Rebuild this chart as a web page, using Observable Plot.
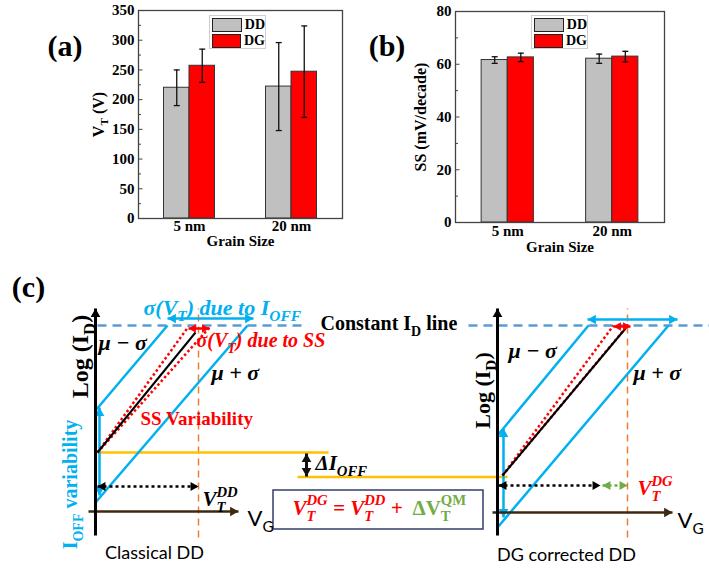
<!DOCTYPE html>
<html>
<head>
<meta charset="utf-8">
<script src="https://cdn.jsdelivr.net/npm/d3@7"></script>
<script src="https://cdn.jsdelivr.net/npm/@observablehq/plot@0.6"></script>
<style>
  html, body { margin: 0; padding: 0; background: #fff; }
  #fig { position: relative; width: 709px; height: 570px; overflow: hidden; background: #fff; }
  .panel { position: absolute; }
  .panel svg { overflow: visible; font-family: "Liberation Serif", "Times New Roman", serif; }
  .legend { position: absolute; box-sizing: border-box; width: 57px; height: 34px; border: 1px solid #cfcfcf;
            background: #fff; padding: 1px 0 0 2px; font: bold 14px "Liberation Serif", serif; color: #000; }
  .lrow { height: 16px; display: flex; align-items: center; }
  .sw { box-sizing: border-box; width: 30px; height: 14px; border: 1px solid #222; margin-right: 3px; }
</style>
</head>
<body>
<div id="fig"></div>
<script>
// ---------------- Panels (a) and (b): bar data ----------------
const grainSizes = ["5 nm", "20 nm"];
const seriesNames = ["DD", "DG"];
const seriesColors = ["#c0c0c0", "#ff0000"];

const vtDD = [220, 222];          // V_T (V), classical drift-diffusion
const vtDG = [257, 247];          // V_T (V), density-gradient
const vtErrDD = [30, 74];
const vtErrDG = [28, 77];
const vtTicks = [0, 50, 100, 150, 200, 250, 300, 350];
const vtMinorTicks = [25, 75, 125, 175, 225, 275, 325];

const ssDD = [61.6, 62.1];        // SS (mV/decade)
const ssDG = [62.6, 62.9];
const ssErrDD = [1.25, 1.75];
const ssErrDG = [1.6, 2.0];
const ssTicks = [0, 20, 40, 60, 80];
const ssMinorTicks = [10, 30, 50, 70];

// ---------------- Panel (c): schematic (x: V_G, y: log I_D, arbitrary units) ----------------
const currentAxes = [{x1: 0, y1: -2.4, x2: 0, y2: 20.3}, {x1: 40.2, y1: -2.4, x2: 40.2, y2: 20.3}];
const gateAxes = [{x1: -0.7, y1: 0, x2: 14.3, y2: 0}, {x1: 39.7, y1: -0.1, x2: 57.7, y2: -0.1}];
const constantIdLine = [{x1: 0.2, y1: 18.6, x2: 20.8, y2: 18.6}, {x1: 37.3, y1: 18.6, x2: 61.4, y2: 18.6}];
const sigmaCurves = [
  {x1: 0, y1: 10.1, x2: 7.2, y2: 18.6},
  {x1: 0, y1: 0.9, x2: 15.2, y2: 18.6},
  {x1: 40.2, y1: 7.6, x2: 49.3, y2: 18.6},
  {x1: 40.2, y1: -1.6, x2: 57.3, y2: 18.6}
];
const ioffSpread = [
  {x1: 7.2, y1: 19.3, x2: 15.8, y2: 19.3},
  {x1: 0.4, y1: 10.4, x2: 0.4, y2: 1.6},
  {x1: 49.2, y1: 19.2, x2: 58.2, y2: 19.2},
  {x1: 40.8, y1: 8.3, x2: 40.8, y2: -0.6}
];
const ssBounds = [
  {x1: 0.2, y1: 5.9, x2: 9.3, y2: 18.5},
  {x1: 0.2, y1: 5.9, x2: 11.4, y2: 18.4},
  {x1: 40.7, y1: 3.6, x2: 51.8, y2: 18.6},
  {x1: 40.7, y1: 3.6, x2: 53.3, y2: 18.7}
];
const meanCurves = [{x1: 0.2, y1: 5.9, x2: 10.0, y2: 17.9}, {x1: 40.7, y1: 3.6, x2: 53.0, y2: 18.3}];
const ssSpread = [{x1: 9.3, y1: 18.3, x2: 11.4, y2: 18.3}, {x1: 51.8, y1: 18.5, x2: 53.5, y2: 18.5}];
const vtMarkers = [{x1: 10.3, y1: -2.6, x2: 10.3, y2: 20.3}, {x1: 53.2, y1: -2.6, x2: 53.2, y2: 20.3}];
const ioffLevels = [{x1: 0.2, y1: 5.9, x2: 23.3, y2: 5.9}, {x1: 20.2, y1: 3.45, x2: 41.2, y2: 3.45}];
const ioffShift = [{x1: 21.1, y1: 5.8, x2: 21.1, y2: 3.5}];
const vtDistance = [{x1: 0.2, y1: 2.5, x2: 10.3, y2: 2.5}, {x1: 40.3, y1: 2.6, x2: 50.5, y2: 2.6}];
const qmShift = [{x1: 50.7, y1: 2.6, x2: 53.2, y2: 2.6}];
const equationBox = [{x1: 17.8, y1: -1.8, x2: 38.8, y2: 2.1}];

const panelTag = [{text: "(c)", x: -6.7, y: 22.4}];
const constantLabel = [{text: "Constant I_{D} line", x: 22.5, y: 18.8}];
const muLabels = [
  {text: "μ − σ", x: 0.3, y: 16.9}, {text: "μ + σ", x: 11.6, y: 13.9},
  {text: "μ − σ", x: 41.3, y: 16.1}, {text: "μ + σ", x: 53.8, y: 13.9}
];
const sigmaIoffLabel = [{text: "σ(V_{T}) due to I_{OFF}", x: 4.8, y: 20.4}];
const sigmaSSLabel = [{text: "σ(V_{T}) due to SS", x: 10.1, y: 17.1}];
const ssVarLabel = [{text: "SS Variability", x: 4.5, y: 9.3}];
const logIdLeft = [{text: "Log (I_{D})", x: -1.5, y: 15.5}];
const logIdRight = [{text: "Log (I_{D})", x: 38.7, y: 12.1}];
const ioffVarLabel = [{text: "I_{OFF} variability", x: -2.5, y: 2.7}];
const caseLabels = [{text: "Classical DD", x: 5.9, y: -4.2}, {text: "DG corrected DD", x: 47.1, y: -4.4}];
const vgLabels = [{text: "V_{G}", x: 15.2, y: -0.7}, {text: "V_{G}", x: 58.2, y: -0.9}];
const vtDDLabel = [{text: "V_{T}^{DD}", x: 10.7, y: 1.2}];
const vtDGLabel = [{text: "V_{T}^{DG}", x: 54.2, y: 2.3}];
const deltaIoffLabel = [{text: "ΔI_{OFF}", x: 22.0, y: 4.8}];
const eqRedPart = [{text: "V_{T}^{DG} = V_{T}^{DD} +", x: 19.7, y: 0.35}];
const eqGreenPart = [{text: "ΔV_{T}^{QM}", x: 31.7, y: 0.35}];

// ---------------- helpers ----------------
const SERIF = "Liberation Serif";
const capSymbol = {draw(ctx, size) { const r = Math.sqrt(size / Math.PI); ctx.moveTo(-r, 0); ctx.lineTo(r, 0); }};
const tickSymbol = {draw(ctx, size) { const r = Math.sqrt(size / Math.PI); ctx.moveTo(0, 0); ctx.lineTo(r, 0); }};

function rows(dd, dg, edd, edg) {
  return grainSizes.flatMap((g, i) => [
    {group: i, series: "DD", value: dd[i], err: edd[i]},
    {group: i, series: "DG", value: dg[i], err: edg[i]}
  ]);
}

function barPanel(o) {
  const barW = 0.25;
  const x1 = d => d.group + (d.series === "DD" ? -barW : 0);
  const x2 = d => d.group + (d.series === "DD" ? 0 : barW);
  const cx = d => d.group + (d.series === "DD" ? -barW / 2 : barW / 2);
  const font = {fontFamily: SERIF, fontWeight: "bold"};
  return Plot.plot({
    width: o.width, height: o.height,
    marginLeft: o.ml, marginRight: o.mr, marginTop: o.mt, marginBottom: o.mb,
    x: {domain: [-0.5, 1.5], axis: null},
    y: {domain: o.yDomain, axis: null},
    color: {domain: seriesNames, range: seriesColors},
    style: {fontFamily: SERIF, fontWeight: "bold", fontSize: "15px", color: "#000", background: "transparent"},
    marks: [
      Plot.rectY(o.data, {x1, x2, y1: 0, y2: "value", fill: "series", stroke: "#333", strokeWidth: 1}),
      Plot.ruleX(o.data, {x: cx, y1: d => d.value - d.err, y2: d => d.value + d.err, stroke: "#111", strokeWidth: 1.3}),
      Plot.dot(o.data, {x: cx, y: d => d.value + d.err, symbol: capSymbol, r: 3, stroke: "#111", strokeWidth: 1.3}),
      Plot.dot(o.data, {x: cx, y: d => d.value - d.err, symbol: capSymbol, r: 3, stroke: "#111", strokeWidth: 1.3}),
      Plot.frame({stroke: "#444", strokeWidth: 1.3}),
      Plot.dot(o.ticks, {y: d => d, frameAnchor: "left", symbol: tickSymbol, r: 4, stroke: "#444", strokeWidth: 1}),
      Plot.dot(o.minor, {y: d => d, frameAnchor: "left", symbol: tickSymbol, r: 2.5, stroke: "#444", strokeWidth: 1}),
      Plot.axisY(o.ticks, {tickSize: 0, tickPadding: 4, label: null, fontSize: 15, ...font}),
      Plot.axisX([0, 1], {tickFormat: i => grainSizes[i], tickSize: 0, tickPadding: o.xPad, label: null, fontSize: 15, ...font}),
      Plot.text(["Grain Size"], {text: d => d, frameAnchor: "bottom", lineAnchor: "middle", textAnchor: "middle", dy: o.titleDy, fontSize: 15, ...font}),
      Plot.text([o.yLabel], {text: d => d, frameAnchor: "left", textAnchor: "middle", lineAnchor: "middle", rotate: -90, dx: o.yLabelDx, fontSize: 16, ...font}),
      Plot.text([o.tag], {text: d => d, frameAnchor: "top-left", textAnchor: "middle", lineAnchor: "middle", dx: o.tagDx, dy: o.tagDy, fontSize: 30, ...font})
    ]
  });
}

const HEAD = {up: [0, 0, 1], down: [180, 0, -1], right: [90, -1, 0], left: [-90, 1, 0]};
function dirOf(dx, dy) { return Math.abs(dx) > Math.abs(dy) ? (dx > 0 ? "right" : "left") : (dy > 0 ? "up" : "down"); }
function headMarks(segs, both, fill, r) {
  const t = 2 * Math.sqrt(r * r * Math.PI / (3 * Math.sqrt(3)));
  const data = [];
  for (const s of segs) {
    data.push({x: s.x2, y: s.y2, dir: dirOf(s.x2 - s.x1, s.y2 - s.y1)});
    if (both) data.push({x: s.x1, y: s.y1, dir: dirOf(s.x1 - s.x2, s.y1 - s.y2)});
  }
  return Object.entries(HEAD).map(([dir, [rot, ux, uy]]) =>
    Plot.dot(data.filter(d => d.dir === dir), {x: "x", y: "y", symbol: "triangle", r, rotate: rot, fill, stroke: "none", dx: ux * t, dy: uy * t}));
}
const seg = (data, opts) => Plot.link(data, {x1: "x1", y1: "y1", x2: "x2", y2: "y2", ...opts});
const lbl = (data, opts) => Plot.text(data, {x: "x", y: "y", text: "text", fontFamily: SERIF, ...opts});

const BLUE = "#00b0f0", RED = "#ff0000", GREEN = "#70ad47", ORANGE = "#ed7d31", YELLOW = "#ffc000", DASHBLUE = "#5b9bd5", BROWN = "#3f2812";

function schematic() {
  return Plot.plot({
    width: 709, height: 315, margin: 0,
    x: {domain: [-9.5, 61.4], axis: null},
    y: {domain: [-5.9, 25.6], axis: null},
    style: {fontFamily: SERIF, fontSize: "18px", color: "#000", background: "transparent"},
    marks: [
      Plot.rect(equationBox, {x1: "x1", x2: "x2", y1: "y1", y2: "y2", fill: "#fff", stroke: "#2f3e6b", strokeWidth: 1.5}),
      seg(constantIdLine, {stroke: DASHBLUE, strokeWidth: 2.5, strokeDasharray: "9,6"}),
      seg(vtMarkers, {stroke: ORANGE, strokeWidth: 1.5, strokeDasharray: "7,5"}),
      seg(ioffLevels, {stroke: YELLOW, strokeWidth: 2.5}),
      seg(sigmaCurves, {stroke: BLUE, strokeWidth: 2.5}),
      seg(ioffSpread, {stroke: BLUE, strokeWidth: 2.5}),
      ...headMarks(ioffSpread, true, BLUE, 3.6),
      seg(ssBounds, {stroke: RED, strokeWidth: 2.5, strokeDasharray: "2.5,2.5"}),
      seg(meanCurves, {stroke: "#000", strokeWidth: 2}),
      seg(ssSpread, {stroke: RED, strokeWidth: 2.5}),
      ...headMarks(ssSpread, true, RED, 3.2),
      seg(vtDistance, {stroke: "#000", strokeWidth: 2.5, strokeDasharray: "3,3"}),
      ...headMarks(vtDistance, true, "#000", 3.4),
      seg(qmShift, {stroke: GREEN, strokeWidth: 2.5, strokeDasharray: "3,3"}),
      ...headMarks(qmShift, true, GREEN, 3.4),
      seg(ioffShift, {stroke: "#111", strokeWidth: 3}),
      ...headMarks(ioffShift, true, "#111", 3.6),
      seg(gateAxes, {stroke: BROWN, strokeWidth: 2.5}),
      ...headMarks(gateAxes, false, BROWN, 3.6),
      seg(currentAxes, {stroke: "#000", strokeWidth: 3}),
      ...headMarks(currentAxes, false, "#000", 3.6),

      lbl(panelTag, {fontSize: 30, fontWeight: "bold"}),
      lbl(constantLabel, {textAnchor: "start", fontSize: 20, fontWeight: "bold"}),
      lbl(muLabels, {textAnchor: "start", fontSize: 22, fontWeight: "bold", fontStyle: "italic"}),
      lbl(sigmaIoffLabel, {textAnchor: "start", fontSize: 22, fontWeight: "bold", fontStyle: "italic", fill: BLUE}),
      lbl(sigmaSSLabel, {textAnchor: "start", fontSize: 20, fontWeight: "bold", fontStyle: "italic", fill: RED}),
      lbl(ssVarLabel, {textAnchor: "start", fontSize: 19, fontWeight: "bold", fill: RED}),
      lbl(logIdLeft, {rotate: -90, fontSize: 24, fontWeight: "bold"}),
      lbl(logIdRight, {rotate: -90, fontSize: 22, fontWeight: "bold"}),
      lbl(ioffVarLabel, {rotate: -90, fontSize: 20, fontWeight: "bold", fill: BLUE}),
      lbl(caseLabels, {fontSize: 18, fontFamily: "Lato"}),
      lbl(vgLabels, {textAnchor: "start", fontSize: 22, fontFamily: "Lato"}),
      lbl(vtDDLabel, {textAnchor: "start", fontSize: 21, fontWeight: "bold", fontStyle: "italic"}),
      lbl(vtDGLabel, {textAnchor: "start", fontSize: 21, fontWeight: "bold", fontStyle: "italic", fill: RED}),
      lbl(deltaIoffLabel, {textAnchor: "start", fontSize: 21, fontWeight: "bold", fontStyle: "italic"}),
      lbl(eqRedPart, {textAnchor: "start", fontSize: 21, fontWeight: "bold", fontStyle: "italic", fill: RED}),
      lbl(eqGreenPart, {textAnchor: "start", fontSize: 21, fontWeight: "bold", fill: GREEN})
    ]
  });
}

// Convert _{..} / ^{..} markup into sub/superscript tspans (stacked when both follow each other)
function richText(root) {
  const NS = "http://www.w3.org/2000/svg";
  root.querySelectorAll("text").forEach(t => {
    const s = t.textContent;
    if (!/[_^]\{/.test(s)) return;
    const fs = parseFloat(getComputedStyle(t).fontSize) || 12;
    t.textContent = "";
    const re = /([_^])\{([^}]*)\}|([^_^]+)/g;
    const parts = [];
    let m;
    while ((m = re.exec(s))) parts.push(m[3] != null ? {k: "n", v: m[3]} : {k: m[1], v: m[2]});
    const subOff = 0.28 * fs, supOff = -0.45 * fs, small = 0.7 * fs;
    let off = 0;
    for (let i = 0; i < parts.length; i++) {
      const p = parts[i];
      const ts = document.createElementNS(NS, "tspan");
      ts.textContent = p.v;
      const target = p.k === "_" ? subOff : p.k === "^" ? supOff : 0;
      if (p.k !== "n") ts.setAttribute("font-size", small);
      if (target - off) ts.setAttribute("dy", target - off);
      off = target;
      t.appendChild(ts);
      if (p.k === "_" && parts[i + 1] && parts[i + 1].k === "^") {
        const w = ts.getComputedTextLength();
        const q = parts[++i];
        const ts2 = document.createElementNS(NS, "tspan");
        ts2.textContent = q.v;
        ts2.setAttribute("font-size", small);
        ts2.setAttribute("dx", -w);
        ts2.setAttribute("dy", supOff - off);
        off = supOff;
        t.appendChild(ts2);
      }
    }
  });
}

function place(node, left, top) {
  const d = document.createElement("div");
  d.className = "panel";
  d.style.left = left + "px";
  d.style.top = top + "px";
  d.appendChild(node);
  return d;
}
function legendBox(left, top) {
  const div = document.createElement("div");
  div.className = "legend";
  div.style.left = left + "px";
  div.style.top = top + "px";
  seriesNames.forEach((s, i) => {
    const row = document.createElement("div");
    row.className = "lrow";
    const sw = document.createElement("span");
    sw.className = "sw";
    sw.style.background = seriesColors[i];
    const lb = document.createElement("span");
    lb.textContent = s;
    row.append(sw, lb);
    div.append(row);
  });
  return div;
}

const fig = document.getElementById("fig");
fig.appendChild(place(barPanel({
  data: rows(vtDD, vtDG, vtErrDD, vtErrDG), yDomain: [0, 350], ticks: vtTicks, minor: vtMinorTicks,
  width: 350, height: 255, ml: 138, mr: 8, mt: 10, mb: 37, xPad: 2, titleDy: 22.5,
  yLabel: "V_{T} (V)", yLabelDx: -40, tag: "(a)", tagDx: -73.5, tagDy: 36
}), 0, 0));
fig.appendChild(place(barPanel({
  data: rows(ssDD, ssDG, ssErrDD, ssErrDG), yDomain: [0, 80], ticks: ssTicks, minor: ssMinorTicks,
  width: 359, height: 255, ml: 105, mr: 45, mt: 11, mb: 33, xPad: 3, titleDy: 25,
  yLabel: "SS (mV/decade)", yLabelDx: -35, tag: "(b)", tagDx: -68.5, tagDy: 35
}), 350, 0));
fig.appendChild(place(schematic(), 0, 255));
fig.appendChild(legendBox(209, 15));
fig.appendChild(legendBox(531, 15));
richText(fig);
</script>
</body>
</html>
